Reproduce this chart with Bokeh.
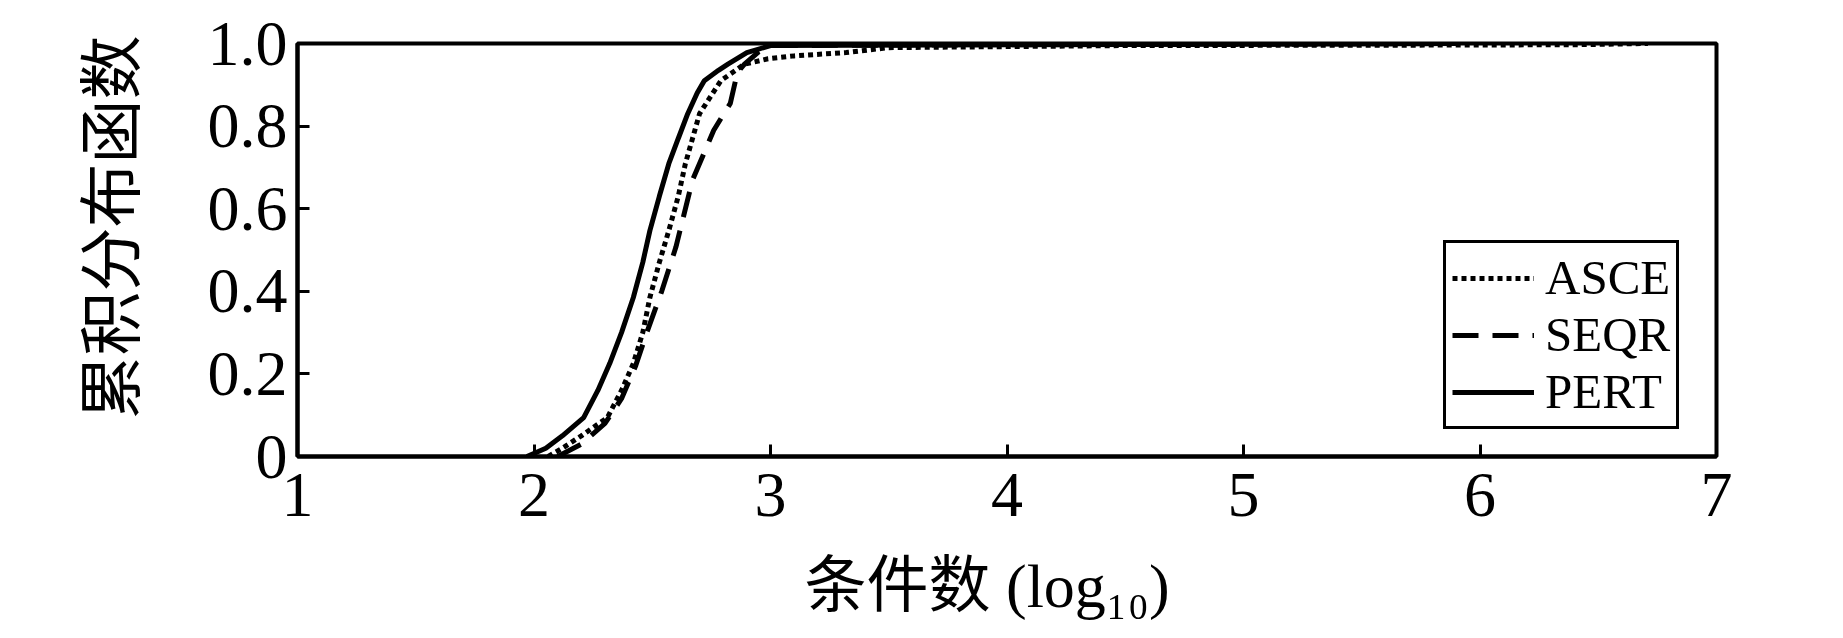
from bokeh.plotting import figure
from bokeh.models import Legend, LegendItem, FixedTicker, Range1d, Title
from bokeh.embed import file_html
from bokeh.resources import INLINE

# ---- data (log10 condition number vs cumulative distribution) ----
pert_x = [1.97, 2.05, 2.12, 2.21, 2.27, 2.32, 2.37, 2.42, 2.46, 2.49, 2.53, 2.57,
          2.61, 2.65, 2.69, 2.72, 2.78, 2.82, 2.90, 3.00, 4.00, 5.00, 5.90]
pert_y = [0.0, 0.02, 0.05, 0.094, 0.16, 0.225, 0.30, 0.385, 0.47, 0.547, 0.63, 0.709,
          0.77, 0.83, 0.88, 0.91, 0.935, 0.95, 0.978, 0.995, 0.997, 0.998, 1.0]

asce_x = [2.06, 2.12, 2.20, 2.31, 2.37, 2.42, 2.46, 2.49, 2.53, 2.57, 2.61, 2.64,
          2.70, 2.79, 2.89, 2.99, 3.10, 3.32, 3.50, 4.50, 5.70, 6.40, 6.71]
asce_y = [0.0, 0.02, 0.05, 0.094, 0.16, 0.225, 0.30, 0.385, 0.47, 0.547, 0.63, 0.709,
          0.83, 0.91, 0.95, 0.963, 0.97, 0.978, 0.99, 0.995, 0.996, 0.997, 1.0]

seqr_x = [2.10, 2.20, 2.30, 2.37, 2.43, 2.48, 2.54, 2.60, 2.67, 2.76, 2.83, 2.86,
          2.89, 2.95, 3.00, 4.00, 5.00, 5.90]
seqr_y = [0.0, 0.03, 0.08, 0.14, 0.22, 0.305, 0.40, 0.507, 0.669, 0.79, 0.855, 0.93,
          0.95, 0.98, 0.995, 0.997, 0.998, 1.0]

x_ticks = [1, 2, 3, 4, 5, 6, 7]
y_ticks = [0, 0.2, 0.4, 0.6, 0.8, 1.0]
y_tick_labels = ["0", "0.2", "0.4", "0.6", "0.8", "1.0"]

series_names = ["ASCE", "SEQR", "PERT"]
x_title = "条件数 (log₁₀)"
y_title = "累积分布函数"

LATIN = "Liberation Serif"
MIXED = "Liberation Serif, Noto Sans CJK SC"

p = figure(width=1830, height=636, output_backend="svg", toolbar_location=None,
           x_range=Range1d(1, 7), y_range=Range1d(0, 1),
           min_border_left=297, min_border_right=114,
           min_border_top=43, min_border_bottom=180)

p.xgrid.visible = False
p.ygrid.visible = False
p.outline_line_color = "black"
p.outline_line_width = 4
p.outline_line_alpha = 1.0
p.background_fill_color = "white"
p.border_fill_color = "white"

r_asce = p.line(asce_x, asce_y, line_color="black", line_width=5, line_dash="5 4")
r_seqr = p.line(seqr_x, seqr_y, line_color="black", line_width=5, line_dash="26 14")
r_pert = p.line(pert_x, pert_y, line_color="black", line_width=5)

# axes styling
for ax in (p.xaxis[0], p.yaxis[0]):
    ax.axis_line_width = 4
    ax.axis_line_color = "black"
    ax.major_tick_in = 12
    ax.major_tick_out = 0
    ax.major_tick_line_width = 3
    ax.minor_tick_line_color = None
    ax.major_label_text_font = LATIN
    ax.major_label_text_font_size = "64px"
    ax.major_label_text_color = "black"

p.xaxis[0].ticker = FixedTicker(ticks=x_ticks)
p.yaxis[0].ticker = FixedTicker(ticks=y_ticks)
p.yaxis[0].major_label_overrides = {t: l for t, l in zip(y_ticks, y_tick_labels)}
p.xaxis[0].major_label_overrides = {t: str(t) for t in x_ticks}
p.xaxis[0].major_label_standoff = 17
p.yaxis[0].major_label_standoff = 10

# spacer between x tick labels and x title
p.add_layout(Title(text=" ", text_font_size="1px", standoff=24), "below")
# axis titles
p.add_layout(Title(text=x_title, text_font=MIXED, text_font_size="62px",
                   text_font_style="normal", text_color="black",
                   align="left", offset=507, vertical_align="middle",
                   standoff=10), "below")
p.add_layout(Title(text=y_title, text_font=MIXED, text_font_size="64px",
                   text_font_style="normal", text_color="black",
                   align="right", offset=-8, vertical_align="middle",
                   standoff=112), "left")

legend = Legend(items=[
    LegendItem(label=series_names[0], renderers=[r_asce]),
    LegendItem(label=series_names[1], renderers=[r_seqr]),
    LegendItem(label=series_names[2], renderers=[r_pert]),
], location=(1146, 27))
legend.label_text_font = LATIN
legend.label_text_font_size = "49px"
legend.label_text_color = "black"
legend.glyph_width = 82
legend.glyph_height = 44
legend.label_height = 44
legend.label_standoff = 11
legend.spacing = -5
legend.padding = 6
legend.margin = 0
legend.border_line_color = "black"
legend.border_line_width = 3
legend.border_line_alpha = 1.0
legend.background_fill_alpha = 1.0
p.add_layout(legend, "center")

open("out.html", "w").write(file_html(p, INLINE))
